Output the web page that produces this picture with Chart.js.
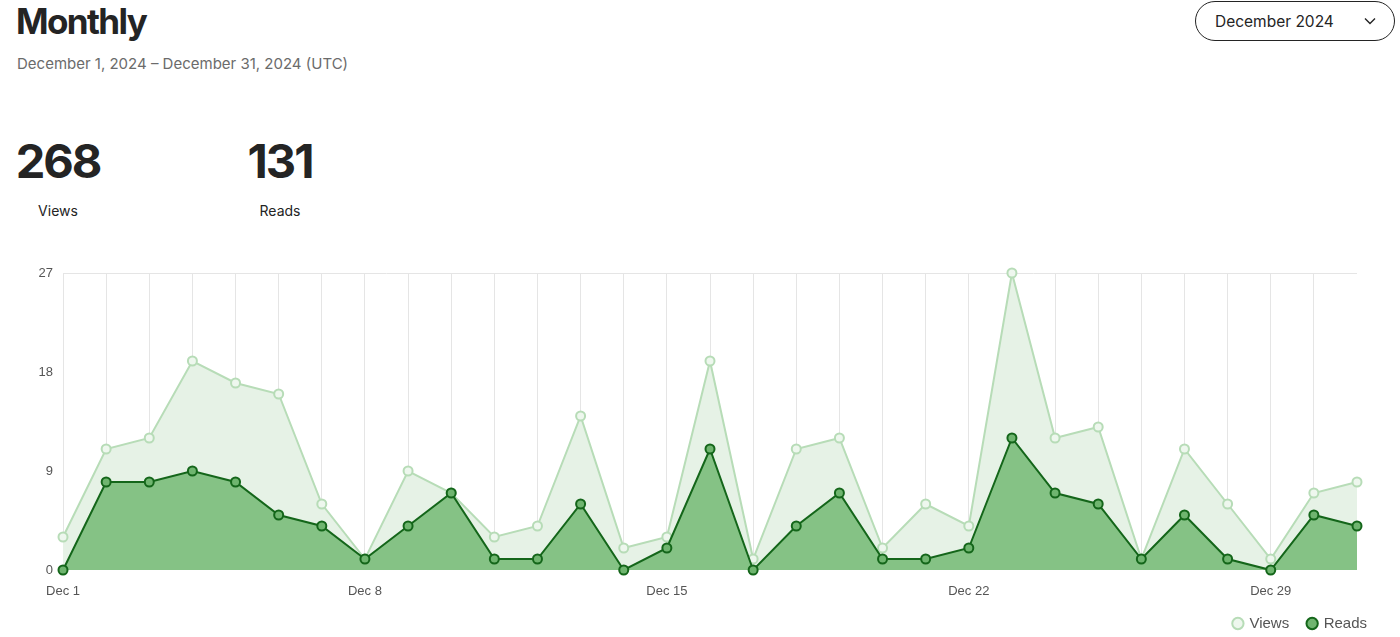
<!DOCTYPE html>
<html>
<head>
<meta charset="utf-8">
<script src="https://cdn.jsdelivr.net/npm/chart.js@4"></script>
<style>
  html, body { margin: 0; padding: 0; background: #fff; }
  body { width: 1400px; height: 637px; position: relative; overflow: hidden; font-family: Inter, "Liberation Sans", sans-serif; color: #242424; }
  .title { position: absolute; left: 16px; top: 0px; font-size: 35px; font-weight: 700; letter-spacing: -1.6px; }
  .range { position: absolute; left: 17px; top: 54px; font-size: 15px; color: #6b6b6b; }
  .picker { position: absolute; left: 1195px; top: 1px; width: 198px; height: 38px; border: 1px solid #242424; border-radius: 20px; box-sizing: content-box; }
  .picker span { position: absolute; left: 19px; top: 10px; font-size: 15.5px; }
  .picker svg { position: absolute; left: 168px; top: 15px; }
  .stat { position: absolute; top: 132px; text-align: center; }
  .stat b { display: block; font-size: 47px; font-weight: 700; letter-spacing: -2px; line-height: 58px; }
  .stat i { display: block; font-style: normal; font-size: 14px; margin-top: 12px; }
  #wrap { position: absolute; left: 0; top: 250px; width: 1400px; height: 391px; }
</style>
</head>
<body>
<div class="title">Monthly</div>
<div class="range">December 1, 2024 – December 31, 2024 (UTC)</div>
<div class="picker"><span>December 2024</span>
  <svg width="12" height="8" viewBox="0 0 12 8"><path d="M1 1.5 L6 6.5 L11 1.5" fill="none" stroke="#242424" stroke-width="1.4"/></svg>
</div>
<div class="stat" style="left:15px;width:86px"><b>268</b><i>Views</i></div>
<div class="stat" style="left:245px;width:70px"><b>131</b><i>Reads</i></div>
<div id="wrap"><canvas id="chart"></canvas></div>
<script>
const days = ['Dec 1','Dec 2','Dec 3','Dec 4','Dec 5','Dec 6','Dec 7','Dec 8','Dec 9','Dec 10',
  'Dec 11','Dec 12','Dec 13','Dec 14','Dec 15','Dec 16','Dec 17','Dec 18','Dec 19','Dec 20',
  'Dec 21','Dec 22','Dec 23','Dec 24','Dec 25','Dec 26','Dec 27','Dec 28','Dec 29','Dec 30','Dec 31'];
const views = [3, 11, 12, 19, 17, 16, 6, 1, 9, 7, 3, 4, 14, 2, 3, 19, 1, 11, 12, 2, 6, 4, 27, 12, 13, 1, 11, 6, 1, 7, 8];
const reads = [0, 8, 8, 9, 8, 5, 4, 1, 4, 7, 1, 1, 6, 0, 2, 11, 0, 4, 7, 1, 1, 2, 12, 7, 6, 1, 5, 1, 0, 5, 4];
const yTicks = [0, 9, 18, 27];

const tickFont = { family: '"Liberation Sans", Arial, sans-serif', size: 13 };

new Chart(document.getElementById('chart').getContext('2d'), {
    type: 'line',
    data: {
        labels: days,
        datasets: [{
            label: 'Reads',
            data: reads,
            borderColor: '#14661a',
            backgroundColor: '#85c285',
            pointBackgroundColor: '#6fb56f',
            pointBorderColor: '#14661a',
            borderWidth: 2,
            pointRadius: 4.5,
            pointBorderWidth: 2,
            fill: 'origin',
            tension: 0,
            clip: false,
            order: 1
        }, {
            label: 'Views',
            data: views,
            borderColor: '#b7dcb7',
            backgroundColor: '#e6f2e6',
            pointBackgroundColor: '#eef7ee',
            pointBorderColor: '#b7dcb7',
            borderWidth: 2,
            pointRadius: 4.5,
            pointBorderWidth: 2,
            fill: 'origin',
            tension: 0,
            clip: false,
            order: 2
        }]
    },
    options: {
        responsive: true,
        maintainAspectRatio: false,
        animation: false,
        layout: { padding: { left: 0, right: 14, top: 23, bottom: 0 } },
        plugins: {
            tooltip: { enabled: false },
            legend: {
                position: 'bottom',
                align: 'end',
                reverse: true,
                labels: {
                    usePointStyle: true,
                    pointStyle: 'circle',
                    boxWidth: 8,
                    boxHeight: 8,
                    padding: 19,
                    color: '#555',
                    font: { family: '"Liberation Sans", Arial, sans-serif', size: 15 }
                }
            }
        },
        scales: {
            x: {
                border: { display: false },
                grid: {
                    drawTicks: false,
                    color: ctx => ctx.index === days.length - 1 ? 'rgba(0,0,0,0)' : '#e5e5e5'
                },
                ticks: {
                    autoSkip: false,
                    maxRotation: 0,
                    padding: 14,
                    color: '#555',
                    font: tickFont,
                    callback: (v, i) => i % 7 === 0 ? days[i] : ''
                },
                afterFit: s => { s.height = 27; }
            },
            y: {
                min: 0,
                max: 27,
                border: { display: false },
                grid: {
                    drawTicks: false,
                    color: ctx => ctx.tick && ctx.tick.value === 27 ? '#e5e5e5' : 'rgba(0,0,0,0)'
                },
                afterBuildTicks: s => { s.ticks = yTicks.map(v => ({ value: v })); },
                ticks: {
                    padding: 10,
                    color: '#555',
                    font: tickFont
                },
                afterFit: s => { s.width = 63; }
            },
            gap: {
                position: 'right',
                min: 0,
                max: 27,
                border: { display: false },
                grid: { display: false },
                ticks: { display: false },
                afterFit: s => { s.width = 29; }
            }
        }
    }
});
</script>
</body>
</html>
